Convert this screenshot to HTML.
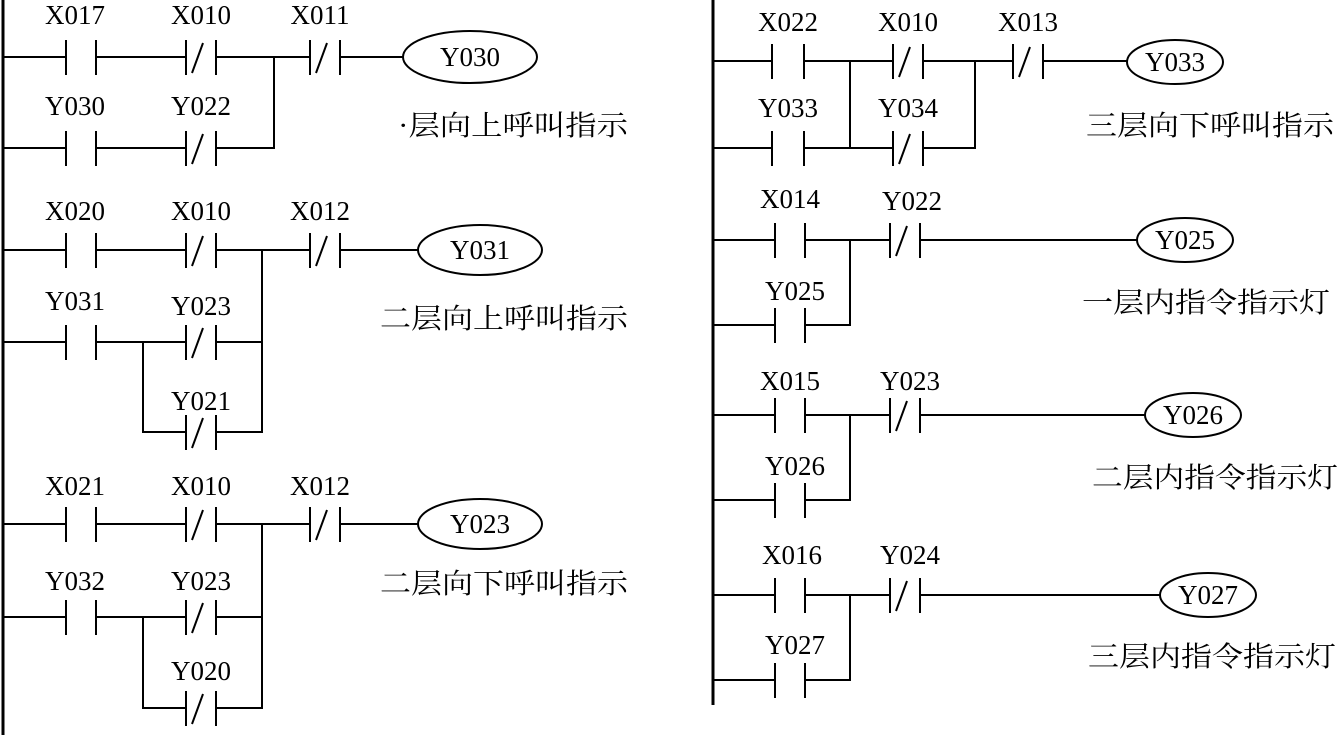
<!DOCTYPE html>
<html><head><meta charset="utf-8"><style>html,body{margin:0;padding:0;background:#fff}svg{display:block}</style></head><body>
<svg width="1341" height="735" viewBox="0 0 1341 735" xmlns="http://www.w3.org/2000/svg">
<g stroke="#000" stroke-width="2" fill="none">
<line x1="3" y1="0" x2="3" y2="735" stroke-width="3"/>
<line x1="713" y1="0" x2="713" y2="705" stroke-width="3"/>
<!-- L rung1 -->
<path d="M3 57H66M96 57H186M216 57H310M340 57H403M3 148H66M96 148H186M216 148H274V57"/>
<path d="M66 40V75M96 40V75M66 131V166M96 131V166"/>
<path d="M186 40V75M216 40V75M192 73L203 43M186 131V166M216 131V166M192 164L203 134"/>
<path d="M310 40V75M340 40V75M316 73L327 43"/>
<ellipse cx="470" cy="57" rx="67" ry="26"/>
<!-- L rung2 -->
<path d="M3 250H66M96 250H186M216 250H310M340 250H418M3 342H66M96 342H186M216 342H262M143 342V432H186M216 432H262V250"/>
<path d="M66 233V268M96 233V268M66 325V360M96 325V360"/>
<path d="M186 233V268M216 233V268M192 266L203 236M186 325V360M216 325V360M192 358L203 328M186 415V450M216 415V450M192 448L203 418"/>
<path d="M310 233V268M340 233V268M316 266L327 236"/>
<ellipse cx="480" cy="250" rx="62" ry="25"/>
<!-- L rung3 -->
<path d="M3 524H66M96 524H186M216 524H310M340 524H418M3 617H66M96 617H186M216 617H262M143 617V708H186M216 708H262V524"/>
<path d="M66 507V542M96 507V542M66 600V635M96 600V635"/>
<path d="M186 507V542M216 507V542M192 540L203 510M186 600V635M216 600V635M192 633L203 603M186 691V726M216 691V726M192 724L203 694"/>
<path d="M310 507V542M340 507V542M316 540L327 510"/>
<ellipse cx="480" cy="524" rx="62" ry="25"/>
<!-- R rung1 -->
<path d="M713 61H772M804 61H893M923 61H1013M1043 61H1127M713 148H772M804 148H893M923 148H975V61M850 61V148"/>
<path d="M772 44V79M804 44V79M772 131V166M804 131V166"/>
<path d="M893 44V79M923 44V79M899 77L910 47M893 131V166M923 131V166M899 164L910 134"/>
<path d="M1013 44V79M1043 44V79M1019 77L1030 47"/>
<ellipse cx="1175" cy="62" rx="48" ry="22"/>
<!-- R rung2 -->
<path d="M713 240H775M805 240H890M920 240H1137M713 325H775M805 325H850V240"/>
<path d="M775 223V258M805 223V258M775 308V343M805 308V343M890 223V258M920 223V258M896 256L907 226"/>
<ellipse cx="1185" cy="240" rx="48" ry="22"/>
<!-- R rung3 -->
<path d="M713 415H775M805 415H890M920 415H1145M713 500H775M805 500H850V415"/>
<path d="M775 398V433M805 398V433M775 483V518M805 483V518M890 398V433M920 398V433M896 431L907 401"/>
<ellipse cx="1193" cy="415" rx="48" ry="22"/>
<!-- R rung4 -->
<path d="M713 595H775M805 595H890M920 595H1160M713 680H775M805 680H850V595"/>
<path d="M775 578V613M805 578V613M775 663V698M805 663V698M890 578V613M920 578V613M896 611L907 581"/>
<ellipse cx="1208" cy="595" rx="48" ry="22"/>
</g>
<g font-family="Liberation Serif, serif" font-size="27" text-anchor="middle" fill="#000">
<text x="75" y="24">X017</text><text x="201" y="24">X010</text><text x="320" y="24">X011</text>
<text x="75" y="115">Y030</text><text x="201" y="115">Y022</text><text x="470" y="66">Y030</text>
<text x="75" y="220">X020</text><text x="201" y="220">X010</text><text x="320" y="220">X012</text>
<text x="75" y="310">Y031</text><text x="201" y="315">Y023</text><text x="201" y="410">Y021</text><text x="480" y="259">Y031</text>
<text x="75" y="495">X021</text><text x="201" y="495">X010</text><text x="320" y="495">X012</text>
<text x="75" y="590">Y032</text><text x="201" y="590">Y023</text><text x="201" y="680">Y020</text><text x="480" y="533">Y023</text>
<text x="788" y="31">X022</text><text x="908" y="31">X010</text><text x="1028" y="31">X013</text>
<text x="788" y="117">Y033</text><text x="908" y="117">Y034</text><text x="1175" y="71">Y033</text>
<text x="790" y="208">X014</text><text x="912" y="210">Y022</text><text x="795" y="300">Y025</text><text x="1185" y="249">Y025</text>
<text x="790" y="390">X015</text><text x="910" y="390">Y023</text><text x="795" y="475">Y026</text><text x="1193" y="424">Y026</text>
<text x="792" y="564">X016</text><text x="910" y="564">Y024</text><text x="795" y="654">Y027</text><text x="1208" y="604">Y027</text>
</g>
<g font-family="Liberation Serif, 'Noto Serif CJK SC', 'Noto Sans CJK SC', serif" font-size="28" fill="#000">
<text x="398" y="135" textLength="230" lengthAdjust="spacingAndGlyphs">·层向上呼叫指示</text>
<text x="380" y="328" textLength="248" lengthAdjust="spacingAndGlyphs">二层向上呼叫指示</text>
<text x="380" y="593" textLength="248" lengthAdjust="spacingAndGlyphs">二层向下呼叫指示</text>
<text x="1086" y="135" textLength="248" lengthAdjust="spacingAndGlyphs">三层向下呼叫指示</text>
<text x="1082" y="312" textLength="248" lengthAdjust="spacingAndGlyphs">一层内指令指示灯</text>
<text x="1092" y="487" textLength="246" lengthAdjust="spacingAndGlyphs">二层内指令指示灯</text>
<text x="1088" y="666" textLength="248" lengthAdjust="spacingAndGlyphs">三层内指令指示灯</text>
</g>
</svg>
</body></html>
